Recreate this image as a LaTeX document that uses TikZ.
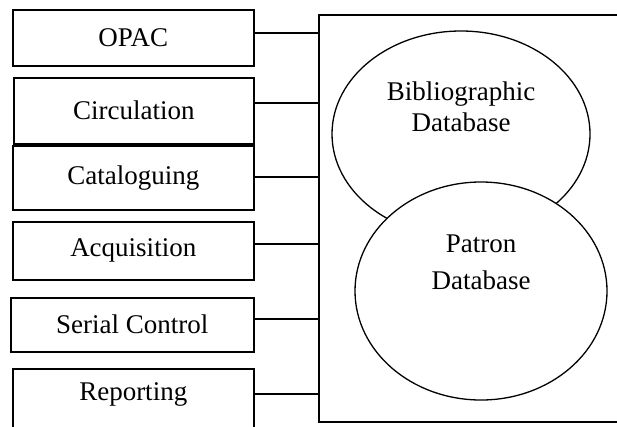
\documentclass[tikz,border=0pt]{standalone}
\usepackage{fontspec}
\setmainfont{Liberation Serif}
\usetikzlibrary{shapes.geometric}
\begin{document}
\begin{tikzpicture}[x=1pt,y=-1pt,
  modbox/.style={draw,line width=1.5pt,rectangle,anchor=north west,inner sep=0pt,
    font=\fontsize{27}{31}\selectfont},
  dbell/.style={draw,line width=1.3pt,ellipse,inner sep=0pt,fill=white},
  dbtext/.style={align=center,inner sep=0pt},
  link/.style={line width=1.5pt}]
\useasboundingbox (0,0) rectangle (617,426);
\clip (0,0) rectangle (617,426);
\fill[white] (0,0) rectangle (617,426);

% module boxes on the left
\node[modbox,minimum width=241pt,minimum height=56pt] (opac) at (12,9) {OPAC};
\node[modbox,minimum width=240pt,minimum height=66pt] (circ) at (13,77) {Circulation};
\node[modbox,minimum width=241pt,minimum height=64pt] (cat) at (12,145) {Cataloguing};
\node[modbox,minimum width=241pt,minimum height=58pt] (acq) at (12,221) {Acquisition};
\node[modbox,minimum width=243pt,minimum height=54pt] (ser) at (10,297) {Serial Control};
\node[modbox,minimum width=241pt,minimum height=80pt,text depth=35pt] (rep) at (12,368) {Reporting};

% system frame on the right
\node[draw,line width=1.5pt,rectangle,anchor=north west,inner sep=0pt,
  minimum width=320pt,minimum height=407pt] (sys) at (318,14) {};

% databases
\node[dbell,minimum width=258pt,minimum height=206pt] (bib) at (461,134) {};
\node[dbell,minimum width=252pt,minimum height=218pt] (pat) at (481,291) {};
\node[dbtext,font=\fontsize{27}{31}\selectfont] (bibtext) at ([yshift=27pt]bib.center) {Bibliographic\\Database};
\node[dbtext,font=\fontsize{27}{37}\selectfont] (pattext) at ([yshift=29pt]pat.center) {Patron\\Database};

% connectors from modules to the system frame
\draw[link] ([yshift=5pt]opac.east) -- ([yshift=5pt]opac.east -| sys.west);
\draw[link] ([yshift=8pt]circ.east) -- ([yshift=8pt]circ.east -| sys.west);
\draw[link] ([yshift=1pt]cat.east) -- ([yshift=1pt]cat.east -| sys.west);
\draw[link] ([yshift=7pt]acq.east) -- ([yshift=7pt]acq.east -| sys.west);
\draw[link] ([yshift=6pt]ser.east) -- ([yshift=6pt]ser.east -| sys.west);
\draw[link] ([yshift=15pt]rep.east) -- ([yshift=15pt]rep.east -| sys.west);
\end{tikzpicture}
\end{document}
